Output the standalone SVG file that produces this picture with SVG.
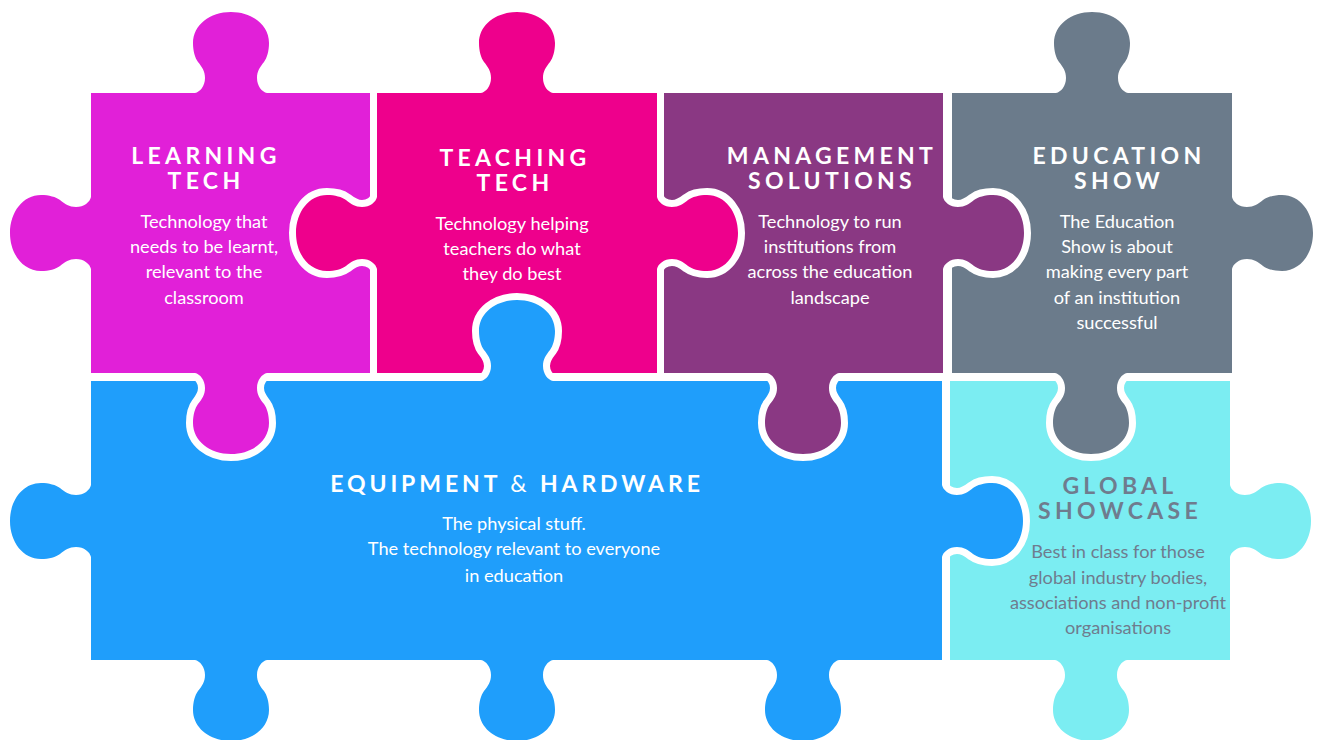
<svg xmlns="http://www.w3.org/2000/svg" width="1317" height="740" viewBox="0 0 1317 740">
<style>
.p{stroke:#fff;stroke-width:14;paint-order:stroke;stroke-linejoin:round}
text{font-family:Lato,"Open Sans",sans-serif;text-anchor:middle;fill:#fff}
.t{font-size:23px;font-weight:700;letter-spacing:4.3px}
.e{letter-spacing:3.9px}
.b{font-size:18.2px;font-weight:400}
.g{fill:#6f7c8e}
</style>
<defs><clipPath id="above"><rect x="400" y="250" width="240" height="131"/></clipPath></defs>
<rect width="1317" height="740" fill="#fff"/>
<g id="connectors"/>
<g id="global-showcase">
<path class="p" fill="#7bedf2" d="M950,381H1230V485c1,5 7,10 15,10c7,0 11,-3 16,-7c4,-3 11,-5 19,-5c18,0 31,17 31,38c0,21 -13,38 -31,38c-8,0 -15,-2 -19,-5c-5,-4 -9,-7 -16,-7c-8,0 -14,5 -15,10V660H1127c-5,1 -10,7 -10,15c0,7 3,11 7,16c3,4 5,11 5,19c0,18 -17,31 -38,31c-21,0 -38,-13 -38,-31c0,-8 2,-15 5,-19c4,-5 7,-9 7,-16c0,-8 -5,-14 -10,-15H950Z"/>
<text class="t g" x="1120" y="494">GLOBAL</text>
<text class="t g" x="1120" y="519">SHOWCASE</text>
<text class="b g" x="1118" y="558">Best in class for those</text>
<text class="b g" x="1118" y="584">global industry bodies,</text>
<text class="b g" x="1118" y="609">associations and non-profit</text>
<text class="b g" x="1118" y="634">organisations</text>
</g>
<g id="education-show">
<path class="p" fill="#6b7b8b" d="M952,93H1056c5,-1 10,-7 10,-15c0,-7 -3,-11 -7,-16c-3,-4 -5,-11 -5,-19c0,-18 17,-31 38,-31c21,0 38,13 38,31c0,8 -2,15 -5,19c-4,5 -7,9 -7,16c0,8 5,14 10,15H1232V197c1,5 7,10 15,10c7,0 11,-3 16,-7c4,-3 11,-5 19,-5c18,0 31,17 31,38c0,21 -13,38 -31,38c-8,0 -15,-2 -19,-5c-5,-4 -9,-7 -16,-7c-8,0 -14,5 -15,10V373H1127c-5,1 -10,7 -10,15c0,7 3,11 7,16c3,4 5,11 5,19c0,18 -17,31 -38,31c-21,0 -38,-13 -38,-31c0,-8 2,-15 5,-19c4,-5 7,-9 7,-16c0,-8 -5,-14 -10,-15H952Z"/>
<text class="t" x="1119" y="164">EDUCATION</text>
<text class="t" x="1119" y="189">SHOW</text>
<text class="b" x="1117" y="228">The Education</text>
<text class="b" x="1117" y="253">Show is about</text>
<text class="b" x="1117" y="278">making every part</text>
<text class="b" x="1117" y="304">of an institution</text>
<text class="b" x="1117" y="329">successful</text>
</g>
<g id="equipment-hardware">
<path class="p" fill="#1f9efb" d="M91,381H942V485c1,5 7,10 15,10c7,0 11,-3 16,-7c4,-3 11,-5 19,-5c18,0 31,17 31,38c0,21 -13,38 -31,38c-8,0 -15,-2 -19,-5c-5,-4 -9,-7 -16,-7c-8,0 -14,5 -15,10V660H839c-5,1 -10,7 -10,15c0,7 3,11 7,16c3,4 5,11 5,19c0,18 -17,31 -38,31c-21,0 -38,-13 -38,-31c0,-8 2,-15 5,-19c4,-5 7,-9 7,-16c0,-8 -5,-14 -10,-15H553c-5,1 -10,7 -10,15c0,7 3,11 7,16c3,4 5,11 5,19c0,18 -17,31 -38,31c-21,0 -38,-13 -38,-31c0,-8 2,-15 5,-19c4,-5 7,-9 7,-16c0,-8 -5,-14 -10,-15H267c-5,1 -10,7 -10,15c0,7 3,11 7,16c3,4 5,11 5,19c0,18 -17,31 -38,31c-21,0 -38,-13 -38,-31c0,-8 2,-15 5,-19c4,-5 7,-9 7,-16c0,-8 -5,-14 -10,-15H91V557c-1,-5 -7,-10 -15,-10c-7,0 -11,3 -16,7c-4,3 -11,5 -19,5c-18,0 -31,-17 -31,-38c0,-21 13,-38 31,-38c8,0 15,2 19,5c5,4 9,7 16,7c8,0 14,-5 15,-10Z"/>
<text class="t e" x="517" y="492">EQUIPMENT <tspan font-weight="400">&amp;</tspan> HARDWARE</text>
<text class="b" x="514" y="530">The physical stuff.</text>
<text class="b" x="514" y="555">The technology relevant to everyone</text>
<text class="b" x="514" y="582">in education</text>
</g>
<g id="learning-tech">
<path class="p" fill="#e120d8" d="M91,93H195c5,-1 10,-7 10,-15c0,-7 -3,-11 -7,-16c-3,-4 -5,-11 -5,-19c0,-18 17,-31 38,-31c21,0 38,13 38,31c0,8 -2,15 -5,19c-4,5 -7,9 -7,16c0,8 5,14 10,15H370V373H267c-5,1 -10,7 -10,15c0,7 3,11 7,16c3,4 5,11 5,19c0,18 -17,31 -38,31c-21,0 -38,-13 -38,-31c0,-8 2,-15 5,-19c4,-5 7,-9 7,-16c0,-8 -5,-14 -10,-15H91V269c-1,-5 -7,-10 -15,-10c-7,0 -11,3 -16,7c-4,3 -11,5 -19,5c-18,0 -31,-17 -31,-38c0,-21 13,-38 31,-38c8,0 15,2 19,5c5,4 9,7 16,7c8,0 14,-5 15,-10Z"/>
<text class="t" x="206" y="164">LEARNING</text>
<text class="t" x="206" y="189">TECH</text>
<text class="b" x="204" y="228">Technology that</text>
<text class="b" x="204" y="253">needs to be learnt,</text>
<text class="b" x="204" y="278">relevant to the</text>
<text class="b" x="204" y="304">classroom</text>
</g>
<g id="management-solutions">
<path class="p" fill="#8a3883" d="M664,93H943V197c1,5 7,10 15,10c7,0 11,-3 16,-7c4,-3 11,-5 19,-5c18,0 31,17 31,38c0,21 -13,38 -31,38c-8,0 -15,-2 -19,-5c-5,-4 -9,-7 -16,-7c-8,0 -14,5 -15,10V373H839c-5,1 -10,7 -10,15c0,7 3,11 7,16c3,4 5,11 5,19c0,18 -17,31 -38,31c-21,0 -38,-13 -38,-31c0,-8 2,-15 5,-19c4,-5 7,-9 7,-16c0,-8 -5,-14 -10,-15H664Z"/>
<text class="t" x="832" y="164">MANAGEMENT</text>
<text class="t" x="832" y="189">SOLUTIONS</text>
<text class="b" x="830" y="228">Technology to run</text>
<text class="b" x="830" y="253">institutions from</text>
<text class="b" x="830" y="278">across the education</text>
<text class="b" x="830" y="304">landscape</text>
</g>
<g id="teaching-tech">
<path class="p" fill="#ee008c" d="M377,93H481c5,-1 10,-7 10,-15c0,-7 -3,-11 -7,-16c-3,-4 -5,-11 -5,-19c0,-18 17,-31 38,-31c21,0 38,13 38,31c0,8 -2,15 -5,19c-4,5 -7,9 -7,16c0,8 5,14 10,15H657V197c1,5 7,10 15,10c7,0 11,-3 16,-7c4,-3 11,-5 19,-5c18,0 31,17 31,38c0,21 -13,38 -31,38c-8,0 -15,-2 -19,-5c-5,-4 -9,-7 -16,-7c-8,0 -14,5 -15,10V373H377V269c-1,-5 -7,-10 -15,-10c-7,0 -11,3 -16,7c-4,3 -11,5 -19,5c-18,0 -31,-17 -31,-38c0,-21 13,-38 31,-38c8,0 15,2 19,5c5,4 9,7 16,7c8,0 14,-5 15,-10Z"/>
<text class="t" x="515" y="166">TEACHING</text>
<text class="t" x="515" y="191">TECH</text>
<text class="b" x="512" y="230">Technology helping</text>
<text class="b" x="512" y="255">teachers do what</text>
<text class="b" x="512" y="280">they do best</text>
</g>
<g id="equipment-top-tab" clip-path="url(#above)">
<path class="p" fill="#1f9efb" d="M481,381c5,-1 10,-7 10,-15c0,-7 -3,-11 -7,-16c-3,-4 -5,-11 -5,-19c0,-18 17,-31 38,-31c21,0 38,13 38,31c0,8 -2,15 -5,19c-4,5 -7,9 -7,16c0,8 5,14 10,15"/>
</g>
</svg>
